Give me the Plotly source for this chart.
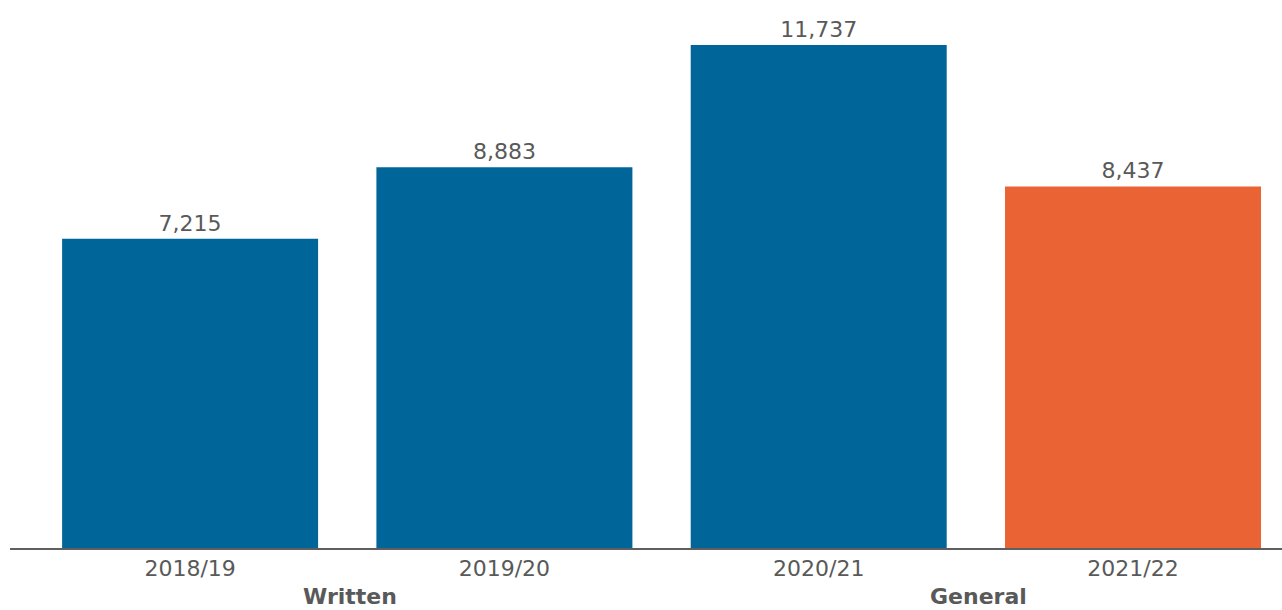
import plotly.graph_objects as go

categories = ["2018/19", "2019/20", "2020/21", "2021/22"]
values = [7215, 8883, 11737, 8437]
groups = ["Written", "General"]
group_positions = [0.5, 2.5]
colors = ["#006699", "#006699", "#006699", "#EA6335"]

FONT = "DejaVu Sans"
GREY = "#595959"

fig = go.Figure()
fig.add_trace(go.Bar(
    x=list(range(len(categories))),
    y=values,
    width=0.8145,
    marker=dict(color=colors, line=dict(width=0)),
    text=[f"{v:,}" for v in values],
    textposition="outside",
    textfont=dict(family=FONT, size=22, color=GREY),
    cliponaxis=False,
))

for g, p in zip(groups, group_positions):
    fig.add_annotation(
        x=p, y=0, xref="x", yref="paper", yshift=-48, xshift=3,
        text=f"<b>{g}</b>", showarrow=False,
        font=dict(family=FONT, size=22, color=GREY),
        yanchor="middle", xanchor="center",
    )

fig.update_layout(
    width=1282, height=610,
    margin=dict(l=10, r=0, t=0, b=62),
    plot_bgcolor="white", paper_bgcolor="white",
    showlegend=False,
    xaxis=dict(
        range=[-0.573, 3.474],
        tickmode="array",
        tickvals=list(range(len(categories))),
        ticktext=categories,
        tickfont=dict(family=FONT, size=22, color=GREY),
        showgrid=False, zeroline=False,
        showline=True, linecolor="#5f5f5f", linewidth=2,
        ticks="",
    ),
    yaxis=dict(range=[0, 12786], visible=False, showgrid=False, zeroline=False),
)

fig.write_html("out.html")
